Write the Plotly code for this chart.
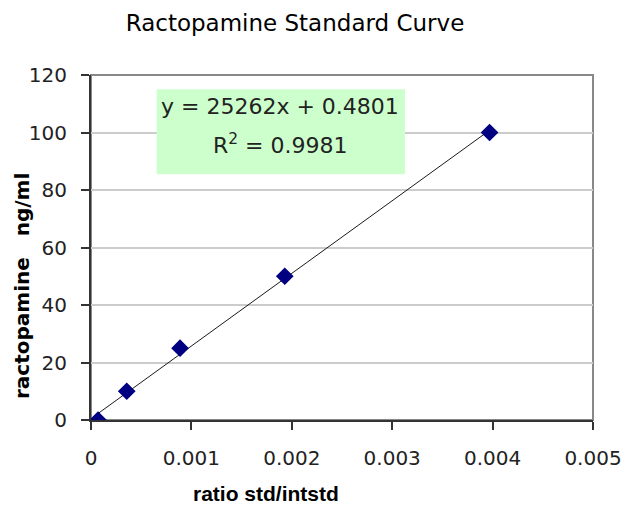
import plotly.graph_objects as go

# Data
ratio = [0.00007, 0.000356, 0.000887, 0.00193, 0.00397]
conc = [0, 10, 25, 50, 100]
slope = 25262
intercept = 0.4801
r_squared = 0.9981

x_tickvals = [0, 0.001, 0.002, 0.003, 0.004, 0.005]
x_ticktext = ["0", "0.001", "0.002", "0.003", "0.004", "0.005"]
y_tickvals = [0, 20, 40, 60, 80, 100, 120]

fit_x = [min(ratio), max(ratio)]
fit_y = [slope * v + intercept for v in fit_x]

fig = go.Figure()
fig.add_trace(go.Scatter(x=fit_x, y=fit_y, mode="lines",
                         line=dict(color="#1a1a1a", width=1), hoverinfo="skip"))
fig.add_trace(go.Scatter(x=ratio, y=conc, mode="markers",
                         marker=dict(symbol="diamond", size=12, color="#000080",
                                     line=dict(color="#000080", width=1.5))))

W, H = 624, 513
plot_left, plot_right, plot_top, plot_bottom = 91, 593, 75, 420
L, T = plot_left, plot_top
R, B = W - plot_right, H - plot_bottom
pw, ph = W - L - R, H - T - B

def px(xp):
    return (xp - L) / pw

def py(yp):
    return (H - B - yp) / ph

tickfont = dict(family="DejaVu Sans", size=20, color="#222222")

fig.update_layout(
    width=W, height=H,
    margin=dict(l=L, r=R, t=T, b=B, autoexpand=False),
    paper_bgcolor="white", plot_bgcolor="white",
    showlegend=False,
    title=dict(text="Ractopamine Standard Curve",
               font=dict(family="DejaVu Sans", size=23, color="#000000"),
               x=295 / W, xanchor="center", xref="container",
               y=1 - 23 / H, yanchor="middle"),
    xaxis=dict(range=[0, 0.005], tickvals=x_tickvals, ticktext=x_ticktext,
               showgrid=False, zeroline=False, automargin=False,
               showline=True, linecolor="#333333", linewidth=2,
               ticks="outside", ticklen=8, tickwidth=2, tickcolor="#333333",
               tickfont=tickfont, ticklabelstandoff=11, ticklabeloverflow="allow"),
    yaxis=dict(range=[0, 120], tickvals=y_tickvals,
               showgrid=True, gridcolor="#cccccc", gridwidth=2, zeroline=False,
               automargin=False,
               showline=True, linecolor="#333333", linewidth=2,
               ticks="outside", ticklen=8, tickwidth=2, tickcolor="#333333",
               tickfont=tickfont, ticklabelstandoff=10),
)

# plot-area border (top/right in gray)
fig.add_shape(type="rect", xref="paper", yref="paper", x0=0, x1=1, y0=0, y1=1,
              line=dict(color="#888888", width=2), fillcolor="rgba(0,0,0,0)",
              layer="between")

# equation box
fig.add_shape(type="rect", xref="paper", yref="paper",
              x0=px(156.7), x1=px(405), y0=py(174.3), y1=py(89.3),
              line=dict(width=0), fillcolor="#ccffcc", layer="above")
eqfont = dict(family="DejaVu Sans", size=22, color="#222222")
fig.add_annotation(xref="paper", yref="paper", x=px(280), y=py(107),
                   text=f"y = {slope}x + {intercept}", showarrow=False,
                   font=eqfont, xanchor="center", yanchor="middle")
fig.add_annotation(xref="paper", yref="paper", x=px(280), y=py(144),
                   text=f"R<sup>2</sup> = {r_squared}", showarrow=False,
                   font=eqfont, xanchor="center", yanchor="middle")

# axis titles
fig.add_annotation(xref="paper", yref="paper", x=px(266), y=py(493),
                   text="ratio std/intstd", showarrow=False,
                   font=dict(family="Liberation Sans", size=21, color="#000000", weight="bold"),
                   xanchor="center", yanchor="middle")
fig.add_annotation(xref="paper", yref="paper", x=px(22), y=py(286),
                   text="ractopamine   ng/ml", showarrow=False, textangle=-90,
                   font=dict(family="DejaVu Sans", size=20, color="#000000", weight="bold"),
                   xanchor="center", yanchor="middle")

fig.write_html("out.html", config={"displayModeBar": False},
               post_script="document.body.style.margin='0';document.body.style.overflow='hidden';")
